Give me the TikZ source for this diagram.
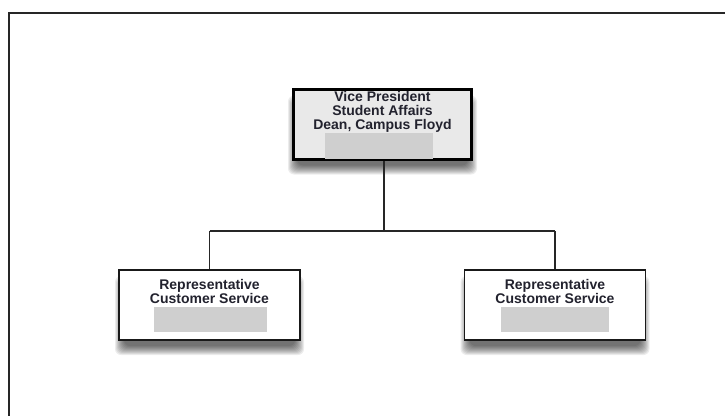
\documentclass[tikz,border=0pt]{standalone}
\usepackage{fontspec}
\setmainfont{Liberation Sans}
\definecolor{topfill}{HTML}{E9E9E9}
\definecolor{mask}{HTML}{CFCFCF}
\definecolor{ink}{HTML}{22222E}
\tikzset{
  topbox/.style={draw=black, line width=3.5pt, fill=topfill, minimum width=178pt, minimum height=70pt, inner sep=0pt},
  subbox/.style={draw=black!90, line width=1.8pt, fill=white, minimum width=181pt, minimum height=70pt, inner sep=0pt},
  label/.style={font=\bfseries\fontsize{14}{14}\selectfont, text=ink, align=center, inner sep=0pt},
  maskbox/.style={fill=mask, inner sep=0pt},
  link/.style={draw=black!85, line width=1.5pt},
  frame/.style={draw=black!85, line width=2pt},
  shadelayer/.style={fill=black, opacity=0.075, rounded corners=6pt}
}
\newcommand{\softshadow}[4]{%
  \foreach \k in {0,...,9}{
    \fill[shadelayer] (#1-4+\k, #2+6+\k) rectangle (#3+4-\k, #4+15-\k);
  }}
\begin{document}
\begin{tikzpicture}[x=1pt,y=-1pt]
\useasboundingbox (0,0) rectangle (725,415);
\fill[white] (0,0) rectangle (725,415);
\draw[frame] (9,416) -- (9,13) -- (726,13);

% shadows
\softshadow{292}{89.5}{473}{159.5}
\softshadow{119}{270}{300}{340}
\softshadow{464.5}{270}{645.5}{340}

% top node
\node[topbox] (vp) at (382.5,124.5) {};
\node[label, anchor=north] (vptext) at (382.5,91.5) {Vice President\\Student Affairs\\Dean, Campus Floyd};
\node[maskbox, minimum width=108pt, minimum height=26pt] (vpmask) at (379,146) {};

% bottom nodes
\node[subbox] (left) at (209.5,305) {};
\node[label, anchor=north] (lefttext) at (209.5,279.5) {Representative\\Customer Service};
\node[maskbox, minimum width=113pt, minimum height=25pt] (leftmask) at (210.5,319.5) {};

\node[subbox] (right) at (555,305) {};
\node[label, anchor=north] (righttext) at (555,279.5) {Representative\\Customer Service};
\node[maskbox, minimum width=108pt, minimum height=25pt] (rightmask) at (555,319.5) {};

% connectors
\coordinate (mid) at (384,231);
\coordinate (lj) at (left.north |- mid);
\coordinate (rj) at (right.north |- mid);
\draw[link] (vp.south -| mid) -- (mid);
\draw[link] (lj) -- (rj);
\draw[link] (lj) -- (left.north);
\draw[link] (rj) -- (right.north);
\end{tikzpicture}
\end{document}
